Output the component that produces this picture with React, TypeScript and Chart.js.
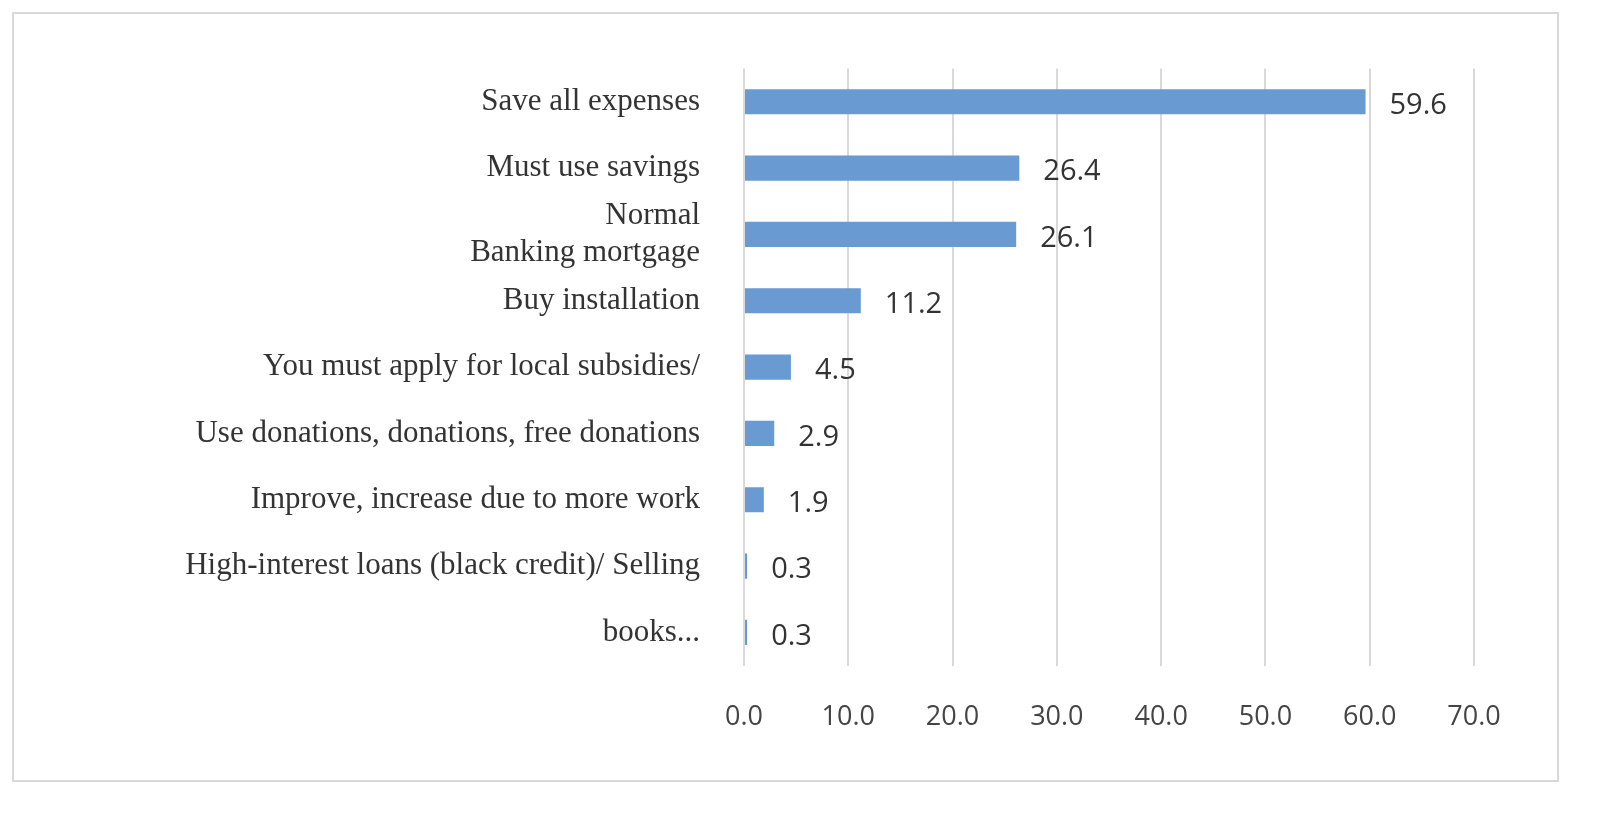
import React, { useEffect, useRef } from "react";
import { Chart, registerables } from "chart.js";
Chart.register(...registerables);

const categories: (string | string[])[] = [
  "Save all expenses",
  "Must use savings",
  ["Normal", "Banking mortgage"],
  "Buy installation",
  "You must apply for local subsidies/",
  "Use donations, donations, free donations",
  "Improve, increase due to more work",
  "High-interest loans (black credit)/ Selling",
  "books...",
];
const values = [59.6, 26.4, 26.1, 11.2, 4.5, 2.9, 1.9, 0.3, 0.3];
const xTicks = [0, 10, 20, 30, 40, 50, 60, 70];

const valueLabels = {
  id: "valueLabels",
  afterDatasetsDraw(chart: any) {
    const ctx = chart.ctx;
    const meta = chart.getDatasetMeta(0);
    ctx.save();
    ctx.font = "29px 'Open Sans', sans-serif";
    ctx.fillStyle = "#333";
    ctx.textBaseline = "middle";
    meta.data.forEach((bar: any, i: number) => {
      ctx.fillText(values[i].toFixed(1), bar.x + 24, bar.y + 4);
    });
    ctx.restore();
  },
};

export default function App() {
  const ref = useRef<HTMLCanvasElement>(null);
  useEffect(() => {
    const chart = new Chart(ref.current!, {
      type: "bar",
      data: {
        labels: categories,
        datasets: [{ data: values, backgroundColor: "#6a9ad2", barPercentage: 0.38, categoryPercentage: 1 }],
      },
      plugins: [valueLabels],
      options: {
        indexAxis: "y",
        animation: false,
        responsive: true,
        maintainAspectRatio: false,
        layout: { padding: { top: 48, right: 83, left: 0, bottom: 10 } },
        plugins: { legend: { display: false }, tooltip: { enabled: false } },
        scales: {
          x: {
            min: 0,
            max: 70,
            afterBuildTicks: (s: any) => { s.ticks = xTicks.map((v) => ({ value: v })); },
            ticks: {
              padding: 36,
              color: "#444",
              font: { size: 27, family: "'Open Sans', sans-serif" },
              callback: (v: any) => Number(v).toFixed(1),
            },
            grid: { color: "#d9d9d9", lineWidth: 2, drawTicks: false },
            border: { display: false },
          },
          y: {
            afterFit: (s: any) => { s.width = 730; },
            ticks: {
              autoSkip: false,
              padding: 36,
              color: "#333",
              font: { size: 31, family: "'Liberation Serif', serif" },
            },
            grid: { display: false },
            border: { display: false },
          },
        },
      },
    });
    return () => chart.destroy();
  }, []);
  return (
    <div style={{ margin: 4, width: 1543, height: 766, border: "2px solid #d9d9d9", background: "#fff" }}>
      <canvas ref={ref} />
    </div>
  );
}
